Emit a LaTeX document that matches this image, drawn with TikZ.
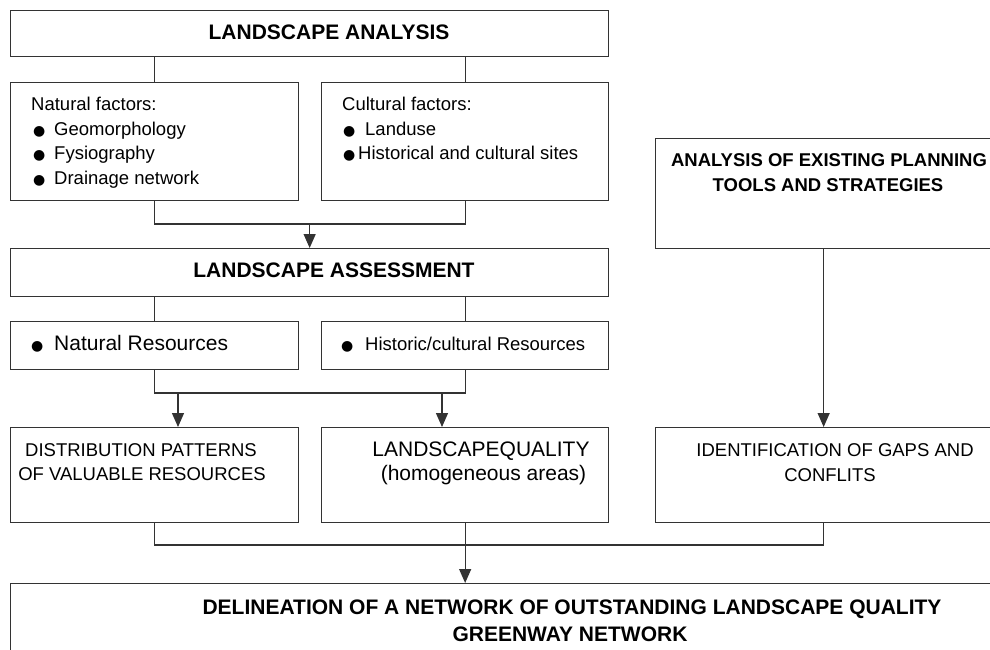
\documentclass[tikz,border=0pt]{standalone}
\usepackage{fontspec}
\setmainfont{Liberation Sans}
\newfontfamily\dejavu{DejaVu Sans}
\usetikzlibrary{arrows.meta}
\newcommand*{\BulletBox}[1]{\makebox[#1][l]{\dejavu\fontsize{14}{14}\selectfont ●}}
\newcommand*{\FlowBoxes}[1]{% #1 = list of name/x/y/width/height
\foreach \n/\x/\y/\w/\h in {#1} {
\node [box, minimum width=\w, minimum height=\h] (\n) at (\x,\y) {};
}%
}
\newcommand*{\TextLines}[2]{% #1 = style, #2 = list of name/x/y/text
\foreach \n/\x/\y/\lbl in {#2} {
\node [#1] (\n) at (\x,\y) {\lbl};
}%
}

\begin{document}
\begin{tikzpicture}[x=1pt, y=-1pt,
    box/.style={draw=black!80, line width=1.3pt, anchor=north west, inner sep=0pt},
    wire/.style={draw=black!80, line width=1.3pt},
    arr/.style={wire, -{Triangle[length=14pt, width=12pt]}},
    body/.style={font=\fontsize{18.5}{22}\selectfont, inner sep=0pt, anchor=base west},
    bodybig/.style={font=\fontsize{21}{24}\selectfont, inner sep=0pt, anchor=base west},
    head/.style={font=\bfseries\fontsize{21}{24}\selectfont, inner sep=0pt, anchor=base},
    subhead/.style={font=\bfseries\fontsize{18.5}{22}\selectfont, inner sep=0pt, anchor=base}]

    \useasboundingbox (0,0) rectangle (990,650);

    % boxes
    \FlowBoxes{
    top/10/10/598pt/46pt, natfac/10/82/288pt/118pt, culfac/321/82/287pt/118pt,
    assess/10/248/598pt/48pt, natres/10/321/288pt/48pt, histres/321/321/287pt/48pt,
    distrib/10/427/288pt/95pt, quality/321/427/287pt/95pt,
    planning/655/138/336pt/110pt, gaps/655/427/336pt/95pt,
    network/10/583/990pt/100pt}

    % junctions
    \coordinate (j1) at (0,224);
    \coordinate (j2) at (0,393);
    \coordinate (j3) at (0,545);
    \coordinate (a1) at (178,393);
    \coordinate (a2) at (442,393);

    % connectors
    \draw[wire] (top.south -| natfac.north) -- (natfac.north);
    \draw[wire] (top.south -| culfac.north) -- (culfac.north);
    \draw[wire] (natfac.south) |- (culfac.south |- j1) -- (culfac.south);
    \draw[arr] (assess.north |- j1) -- (assess.north);
    \draw[wire] (assess.south -| natres.north) -- (natres.north);
    \draw[wire] (assess.south -| histres.north) -- (histres.north);
    \draw[wire] (natres.south) |- (histres.south |- j2) -- (histres.south);
    \draw[arr] (a1) -- (a1 |- distrib.north);
    \draw[arr] (a2) -- (a2 |- quality.north);
    \draw[arr] (planning.south) -- (gaps.north);
    \draw[wire] (distrib.south) |- (gaps.south |- j3) -- (gaps.south);
    \draw[arr] (quality.south) -- (quality.south |- network.north);

    % texts
    \node[head] (topT) at (329,39.5) {LANDSCAPE ANALYSIS};
    \node[head] (assessT) at (334,277.5) {LANDSCAPE ASSESSMENT};
    \TextLines{body}{natfacT/31/111/{Natural factors:},
    geo/33/135.5/{\BulletBox{21pt}Geomorphology},
    fys/33/160/{\BulletBox{21pt}Fysiography},
    drain/33/184.5/{\BulletBox{21pt}Drainage network}}
    \TextLines{body}{culfacT/342/111/{Cultural factors:},
    land/343/135.5/{\BulletBox{22pt}Landuse},
    hist/343/160/{\BulletBox{15pt}Historical and cultural sites}}
    \node[bodybig] (natresT) at (31,350.5) {\BulletBox{23pt}Natural Resources};
    \node[body] (histresT) at (341,350.5) {\BulletBox{24pt}Historic/cultural Resources};
    \TextLines{body, anchor=base}{distA/141/456.5/{DISTRIBUTION PATTERNS},
    distB/142/480.5/{OF VALUABLE RESOURCES}}
    \TextLines{bodybig, anchor=base}{qualA/481/456/{LANDSCAPEQUALITY},
    qualB/483.5/480/{(homogeneous areas)}}
    \TextLines{subhead}{planA/829/166.5/{ANALYSIS OF EXISTING PLANNING},
    planB/828/191/{TOOLS AND STRATEGIES}}
    \TextLines{body, anchor=base}{gapsA/835/456.5/{IDENTIFICATION OF GAPS AND},
    gapsB/830/481/{CONFLITS}}
    \TextLines{head}{netA/572/614/{DELINEATION OF A NETWORK OF OUTSTANDING LANDSCAPE QUALITY},
    netB/570/641.5/{GREENWAY NETWORK}}

\end{tikzpicture}
\end{document}
